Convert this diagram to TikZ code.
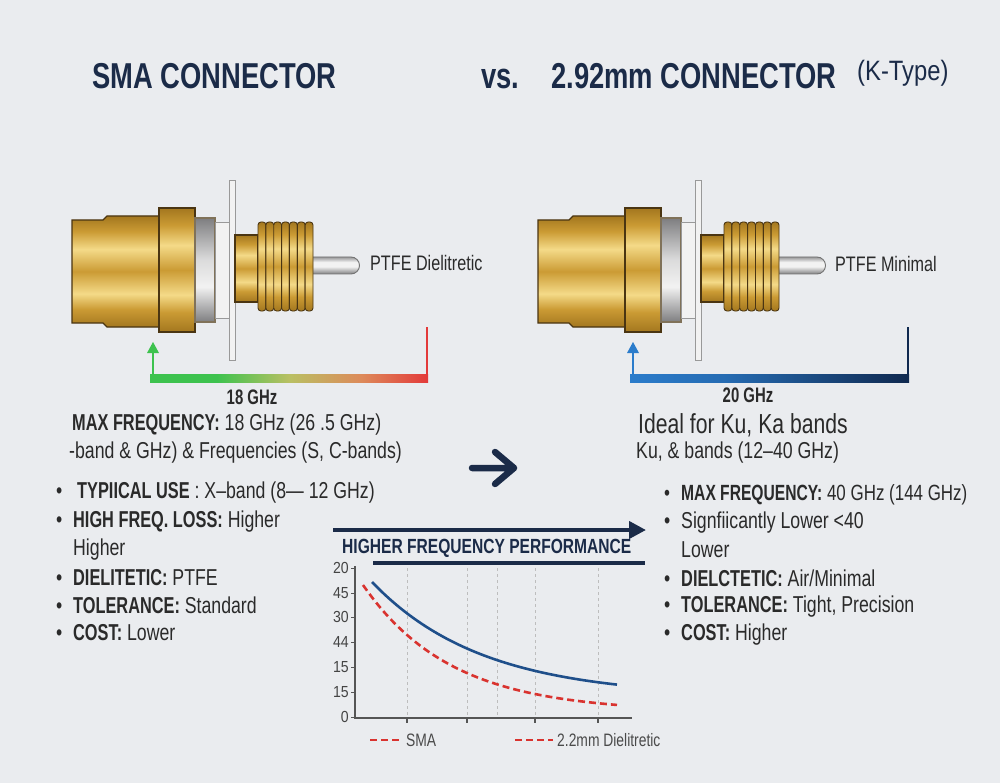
\documentclass[tikz,border=0pt]{standalone}
\usepackage{fontspec}
\setmainfont{Liberation Sans}[UprightFeatures={FakeStretch=0.77}, BoldFeatures={FakeStretch=0.71}]
\newfontfamily\titlefont{Liberation Sans}[FakeStretch=0.76]
\newfontfamily\tickfont{Liberation Sans}[FakeStretch=0.88]
\newfontfamily\kfont{Liberation Sans}[FakeStretch=0.85]
\usetikzlibrary{arrows.meta}
\definecolor{bg}{HTML}{EAECEF}
\definecolor{navy}{HTML}{1B2B48}
\definecolor{txt}{HTML}{2A2A2A}
\definecolor{golddk}{HTML}{A3771F}
\definecolor{goldmd}{HTML}{CB9B34}
\definecolor{goldlt}{HTML}{F4DA88}
\definecolor{goldln}{HTML}{4A3512}
\definecolor{silvdk}{HTML}{7E7E80}
\definecolor{silvlt}{HTML}{F2F2F2}
\definecolor{grnA}{HTML}{3DC24E}
\definecolor{grnB}{HTML}{B9C063}
\definecolor{grnC}{HTML}{DD8A5A}
\definecolor{grnD}{HTML}{E33A3A}
\definecolor{bluA}{HTML}{2B7CCB}
\definecolor{bluB}{HTML}{10294F}
\definecolor{curveblue}{HTML}{1F4F8A}
\definecolor{curvered}{HTML}{D9332F}
\definecolor{gridc}{HTML}{BDBDBD}
\definecolor{axisc}{HTML}{555555}
\pgfdeclareverticalshading{gold}{100bp}{color(0bp)=(golddk); color(25bp)=(golddk); color(33bp)=(goldmd); color(40bp)=(goldlt); color(50bp)=(goldmd); color(60bp)=(goldlt); color(68bp)=(goldmd); color(75bp)=(golddk); color(100bp)=(golddk)}
\pgfdeclareverticalshading{silver}{100bp}{color(0bp)=(silvdk); color(25bp)=(silvdk); color(42bp)=(silvlt); color(55bp)=(silvlt!80!silvdk); color(75bp)=(silvdk); color(100bp)=(silvdk)}
\pgfdeclareverticalshading{pinsh}{100bp}{color(0bp)=(silvdk); color(25bp)=(silvdk); color(47bp)=(silvlt); color(60bp)=(silvlt); color(75bp)=(silvdk!80); color(100bp)=(silvdk!80)}
\pgfdeclarehorizontalshading{rgbar}{100bp}{color(0bp)=(grnA); color(25bp)=(grnA); color(37bp)=(grnA); color(50bp)=(grnB); color(63bp)=(grnC); color(75bp)=(grnD); color(100bp)=(grnD)}
\pgfdeclarehorizontalshading{bbar}{100bp}{color(0bp)=(bluA); color(25bp)=(bluA); color(42bp)=(bluA!80!bluB); color(75bp)=(bluB); color(100bp)=(bluB)}
\tikzset{
  goldpart/.style={shading=gold, draw=goldln, line width=1.1pt},
  silvpart/.style={shading=silver, draw=goldln!70, line width=1.1pt},
  whitepart/.style={fill=silvlt, draw=gray!80, line width=0.9pt},
  ridge/.style={shading=gold, draw=goldln, line width=0.9pt, rounded corners=3pt},
  pinpart/.style={shading=pinsh, draw=gray!90!black, line width=0.9pt},
  lbl/.style={anchor=west, inner sep=0pt, text=txt, font=\fontsize{21}{24}\selectfont},
  body/.style={anchor=west, inner sep=0pt, text=txt, font=\fontsize{23}{26}\selectfont},
  ttl/.style={anchor=west, inner sep=0pt, text=navy, font=\titlefont\bfseries\fontsize{36}{40}\selectfont},
  ghz/.style={inner sep=0pt, text=txt, font=\bfseries\fontsize{21}{24}\selectfont},
  ytick/.style={anchor=east, inner sep=0pt, text=axisc!80!black, font=\tickfont\fontsize{16}{18}\selectfont},
  leg/.style={anchor=west, inner sep=0pt, text=txt!85, font=\fontsize{18}{20}\selectfont},
}
\newcommand\drawconnector{%
  % back body
  \path[goldpart] (72,220) -- (103,220) -- (107,216) -- (160,216) -- (160,327) -- (107,327) -- (103,323) -- (72,323) -- cycle;
  % collar
  \path[goldpart] (159,208) rectangle (195,332);
  % silver ring
  \path[silvpart] (195,218) rectangle (215,322);
  % white washer and flange
  \path[whitepart] (215,222) rectangle (230,318);
  \path[whitepart] (229,180) rectangle (235,360);
  % sleeve
  \path[goldpart] (235,235) rectangle (258,302);
  % pin
  \path[pinpart] (312,257) -- (351,257) arc[start angle=-90, end angle=90, radius=8.5] -- (312,274) -- cycle;
  % threads
  \foreach \i in {0,...,6}{
    \path[ridge] ({258+\i*7.86},222) rectangle ({258+(\i+1)*7.86},311);
  }
}
\begin{document}
\begin{tikzpicture}[x=1pt,y=-1pt]
\useasboundingbox[fill=bg] (0,0) rectangle (1000,783);

% titles
\node[ttl] (t1) at (92,76) {SMA CONNECTOR};
\node[ttl] (t2) at (481,79) {vs.};
\node[ttl] (t3) at (551,76) {2.92mm CONNECTOR};
\node[anchor=west, inner sep=0pt, text=navy, font=\kfont\fontsize{28}{30}\selectfont] (t4) at (857,73) {(K-Type)};

% connectors
\begin{scope}
  \drawconnector
\end{scope}
\begin{scope}[shift={(466,0)}]
  \drawconnector
\end{scope}
\node[lbl] (l1) at (370,263) {PTFE Dielitretic};
\node[lbl] (l2) at (835,264) {PTFE Minimal};

% frequency bars
\coordinate (gl) at (153,378);
\coordinate (gh) at (153,342);
\coordinate (gr) at (427,378);
\coordinate (grt) at (427,327);
\path[shading=rgbar] (150,374) rectangle (428,382);
\draw[grnA, line width=2pt] (gl) -- ([yshift=-10pt]gh);
\fill[grnA] (gh) -- ++(-6,11) -- ++(12,0) -- cycle;
\draw[grnD, line width=1.4pt] (grt) -- (gr);
\node[ghz] (f1) at (252,397) {18 GHz};

\coordinate (bl) at (633,378);
\coordinate (bh) at (633,342);
\coordinate (br) at (908,378);
\coordinate (brt) at (908,327);
\path[shading=bbar] (630,374) rectangle (909,382);
\draw[bluA, line width=2pt] (bl) -- ([yshift=-10pt]bh);
\fill[bluA] (bh) -- ++(-6,11) -- ++(12,0) -- cycle;
\draw[bluB, line width=1.4pt] (brt) -- (br);
\node[ghz] (f2) at (748,395) {20 GHz};

% left text
\node[body] (a1) at (72,425) {\textbf{MAX FREQUENCY:} 18 GHz (26 .5 GHz)};
\node[body] (a2) at (69,453) {-band \& GHz) \& Frequencies (S, C-bands)};
\node[body] (a3) at (56,493) {\makebox[21pt][l]{•}\textbf{TYPIICAL USE} : X–band (8— 12 GHz)};
\node[body] (a4) at (56,522) {\makebox[17pt][l]{•}\textbf{HIGH FREQ. LOSS:} Higher};
\node[body] (a5) at (73,550) {Higher};
\node[body] (a6) at (56,578) {\makebox[17pt][l]{•}\textbf{DIELITETIC:} PTFE};
\node[body] (a7) at (56,605) {\makebox[17pt][l]{•}\textbf{TOLERANCE:} Standard};
\node[body] (a8) at (56,633) {\makebox[17pt][l]{•}\textbf{COST:} Lower};

% right text
\node[body, font=\fontsize{27.5}{31}\selectfont] (b1) at (638,425) {Ideal for Ku, Ka bands};
\node[body] (b2) at (636,453) {Ku, \& bands (12–40 GHz)};
\node[body, font=\fontsize{22}{26}\selectfont] (b3) at (664,495) {\makebox[17pt][l]{•}\textbf{MAX FREQUENCY:} 40 GHz (144 GHz)};
\node[body] (b4) at (664,523) {\makebox[17pt][l]{•}Signfiicantly Lower <40};
\node[body] (b5) at (681,550) {Lower};
\node[body] (b6) at (664,578) {\makebox[17pt][l]{•}\textbf{DIELCTETIC:} Air/Minimal};
\node[body] (b7) at (664,607) {\makebox[17pt][l]{•}\textbf{TOLERANCE:} Tight, Precision};
\node[body] (b8) at (664,635) {\makebox[17pt][l]{•}\textbf{COST:} Higher};

% middle arrow
\coordinate (ma) at (472,468);
\coordinate (mb) at (514,468);
\draw[navy, line width=6.5pt, line cap=round, line join=round] (ma) -- (mb) (495,452) -- (mb) -- (495,484);

% chart header
\coordinate (h1) at (333,530);
\coordinate (h2) at (646,530);
\coordinate (h3) at (373,563);
\coordinate (h4) at (645,563);
\draw[navy, line width=4pt, -{Triangle[length=17pt,width=17pt]}] (h1) -- (h2);
\draw[navy, line width=4pt] (h3) -- (h4);
\node[anchor=west, inner sep=0pt, text=navy, font=\titlefont\bfseries\fontsize{20.5}{23}\selectfont] (hd) at (342,548) {HIGHER FREQUENCY PERFORMANCE};

% chart grid
\foreach \gx in {407,467,497,535,598}{
  \draw[gridc, line width=0.7pt, dash pattern=on 3pt off 3pt] (\gx,568) -- (\gx,718);
}
% axes
\coordinate (o) at (355,718);
\coordinate (ytop) at (355,566);
\coordinate (xend) at (632,718);
\draw[axisc, line width=1.2pt] (ytop) -- (o) -- (xend);
\foreach \tx in {407,467,535,598}{
  \draw[axisc, line width=1.2pt] (\tx,718) -- (\tx,723);
}
\foreach \ty/\lab [count=\k] in {568/20,593/45,617/30,642/44,667/15,692/15,717/0}{
  \draw[axisc, line width=1pt] (351,\ty) -- (355,\ty);
  \node[ytick] (y\k) at (349,\ty) {\lab};
}
% curves
\draw[curveblue, line width=2.6pt] plot[domain=372:617, samples=60] (\x, {697-115*exp(-(\x-372)/110)});
\draw[curvered, line width=2.6pt, dash pattern=on 7pt off 4pt] plot[domain=363:617, samples=60] (\x, {712-127*exp(-(\x-363)/88)});

% legend
\coordinate (la) at (370,740);
\coordinate (lb) at (402,740);
\coordinate (lc) at (515,740);
\coordinate (ld) at (553,740);
\draw[curvered, line width=2pt, dash pattern=on 7pt off 4pt] (la) -- (lb);
\draw[curvered, line width=2pt, dash pattern=on 7pt off 4pt] (lc) -- (ld);
\node[leg] (s1) at (406,740) {SMA};
\node[leg] (s2) at (557,740) {2.2mm Dielitretic};
\end{tikzpicture}
\end{document}
